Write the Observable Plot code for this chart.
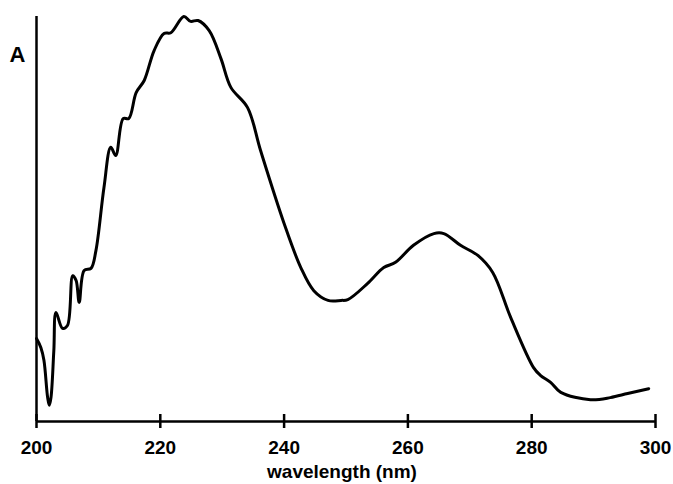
<!DOCTYPE html>
<html><head><meta charset="utf-8">
<script src="https://cdn.jsdelivr.net/npm/d3@7"></script>
<script src="https://cdn.jsdelivr.net/npm/@observablehq/plot@0.6"></script>
<style>html,body{margin:0;padding:0;background:#fff;}</style>
</head><body><div id="chart"></div>
<script>
const wavelength = [200,200.7,201.2,201.8,202.07,202.34,202.8,203.15,204.2,205.0,205.85,206.4,206.9,207.7,208.8,209.6,210.9,212.0,212.8,214.0,214.9,216.1,217.4,219.0,220.6,221.7,223.8,224.9,226.1,227.9,229.8,231.4,234.1,236.2,240.0,242.7,244.8,247.1,249.2,250.3,253.5,256.1,258.0,260.9,264.2,265.8,268.5,271.3,273.7,276.6,280.3,281.4,283.1,284.7,289.5,292.7,295.5,298.9];
const absorbance = [0.205,0.183,0.151,0.059,0.040,0.059,0.175,0.269,0.230,0.237,0.360,0.348,0.294,0.373,0.378,0.422,0.578,0.677,0.657,0.748,0.748,0.812,0.842,0.916,0.958,0.960,1.000,0.988,0.990,0.965,0.896,0.825,0.775,0.669,0.489,0.380,0.323,0.299,0.299,0.301,0.341,0.380,0.393,0.435,0.464,0.464,0.435,0.410,0.368,0.257,0.133,0.114,0.096,0.072,0.054,0.059,0.069,0.081];
const xTicks = [200,220,240,260,280,300];
const yLabel = ["A"];
const xTitle = ["wavelength (nm)"];

const data = wavelength.map((w,i)=>({w, a: absorbance[i]}));

const chart = Plot.plot({
  width: 673, height: 484,
  marginLeft: 36, marginRight: 18, marginTop: 16, marginBottom: 63,
  style: {fontFamily: "'Liberation Sans', Arial, sans-serif", fontWeight: "bold", fontSize: "19px", color: "#000", background: "#fff"},
  x: {domain: [200,300]},
  y: {domain: [0,1]},
  marks: [
    Plot.ruleX([200], {stroke: "#000", strokeWidth: 2.5}),
    Plot.ruleY([0], {stroke: "#000", strokeWidth: 2.5}),
    Plot.ruleX(xTicks, {x: d=>d, y1: 0, y2: 0, insetTop: -7, insetBottom: -7, stroke: "#000", strokeWidth: 2.5}),
    Plot.axisX({ticks: xTicks, tickSize: 0, tickPadding: 19, tickFormat: d=>d, label: null, fontWeight: "bold"}),
    Plot.axisY({ticks: [], label: null}),
    Plot.line(data, {x: "w", y: "a", curve: "catmull-rom", stroke: "#000", strokeWidth: 3}),
    Plot.text(yLabel, {text: d=>d, frameAnchor: "top-left", dx: -19, dy: 38, textAnchor: "middle", lineAnchor: "middle", fontSize: 22, fontWeight: "bold"}),
    Plot.text(xTitle, {text: d=>d, frameAnchor: "bottom", dx: -4, dy: 56, lineAnchor: "bottom", fontSize: 19, fontWeight: "bold"})
  ]
});
document.getElementById("chart").appendChild(chart);
</script></body></html>
